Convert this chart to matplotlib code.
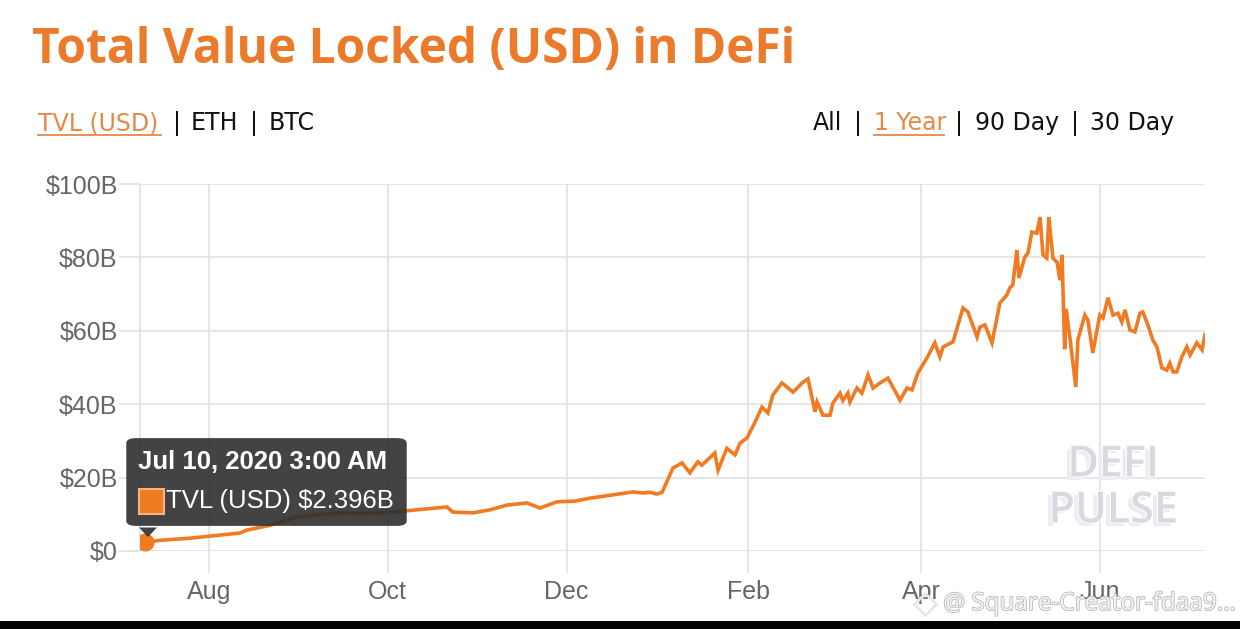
import numpy as np
import pandas as pd
import matplotlib
matplotlib.use("Agg")
from matplotlib import pyplot as plt
from matplotlib.patches import FancyBboxPatch, Polygon, Rectangle
import matplotlib.patheffects as pe

W, H = 1240, 629

# days after Jul 10, 2020 3:00 AM and TVL in $B
days = [0, 5.1, 15.4, 23.9, 32.4, 34.8, 42.7, 51.9, 59.7, 66.6, 75.1, 84.6, 93.9,
        103.1, 105.1, 111.9, 117.7, 123.5, 130.4, 134.8, 140.6, 146.8, 151.9, 159.7,
        166.6, 170.0, 172.4, 174.7, 176.5, 180.2, 183.3, 186.0, 188.7, 190.1, 194.5,
        195.6, 198.6, 201.4, 203.1, 205.5, 208.2, 210.6, 212.6, 214.3, 217.4, 221.2,
        224.6, 226.3, 228.7, 229.4, 231.4, 233.8, 234.8, 237.2, 238.2, 239.9, 240.6,
        243.0, 244.7, 246.8, 248.5, 250.9, 253.6, 257.7, 260.1, 261.8, 263.8, 266.9,
        269.6, 271.3, 272.4, 275.8, 279.2, 280.9, 284.0, 285.0, 286.7, 289.1, 291.8,
        294.2, 295.2, 296.2, 297.6, 298.3, 300.3, 301.4, 302.7, 304.4, 305.5, 306.5,
        307.8, 308.5, 309.9, 311.3, 312.3, 313.0, 313.9, 314.4, 315.7, 317.7, 318.4,
        320.8, 321.8, 323.5, 325.9, 327.0, 328.7, 330.4, 332.1, 333.4, 334.5, 336.2,
        337.9, 339.6, 340.6, 342.3, 344.0, 345.4, 347.1, 348.8, 349.8, 350.9, 352.2,
        353.9, 355.6, 356.7, 359.0, 360.8, 361.8]
tvl = [2.396, 2.9, 3.5, 4.2, 4.9, 5.7, 7.0, 9.3, 9.9, 10.4, 10.2, 10.6, 11.3,
       12.0, 10.6, 10.4, 11.2, 12.5, 13.1, 11.7, 13.4, 13.6, 14.4, 15.3,
       16.1, 15.8, 16.0, 15.5, 16.0, 22.6, 24.0, 21.3, 24.3, 23.4, 26.7,
       22.0, 28.0, 26.2, 29.4, 30.8, 35.1, 39.2, 37.6, 42.5, 45.8, 43.3,
       46.0, 46.9, 37.9, 40.6, 37.0, 37.0, 40.3, 43.0, 41.0, 43.0, 40.6,
       44.4, 43.0, 48.0, 44.4, 45.8, 47.1, 41.1, 44.4, 43.9, 48.5, 52.6,
       56.7, 52.9, 55.6, 57.0, 66.2, 65.1, 58.3, 61.0, 61.6, 56.7, 67.6,
       69.8, 71.7, 72.5, 82.0, 74.4, 80.1, 81.2, 86.9, 86.6, 91.0, 80.7,
       79.8, 91.0, 79.8, 78.7, 73.8, 80.7, 55.0, 66.0, 58.0, 44.7, 57.5,
       64.3, 63.0, 54.0, 64.3, 63.5, 69.0, 64.3, 64.8, 62.4, 65.7, 60.2,
       59.7, 64.8, 65.1, 61.6, 57.5, 55.6, 49.9, 49.3, 51.2, 48.8, 48.8,
       52.9, 55.6, 53.4, 56.7, 54.8, 58.9]

start = pd.Timestamp("2020-07-10 03:00")
dates = start + pd.to_timedelta(days, unit="D")

y_ticks = [0, 20, 40, 60, 80, 100]
y_labels = ["$0", "$20B", "$40B", "$60B", "$80B", "$100B"]
x_ticks = ["2020-08-01", "2020-10-01", "2020-12-01", "2021-02-01", "2021-04-01", "2021-06-01"]
x_labels = ["Aug", "Oct", "Dec", "Feb", "Apr", "Jun"]

series_menu = ["TVL (USD)", "ETH", "BTC"]
range_menu = ["All", "1 Year", "90 Day", "30 Day"]

ORANGE = "#f07b22"
LINK = "#e4894a"
GRID = "#e1e1e1"
LABEL = "#666666"


def fx(x):
    return x / W


def fy(y):
    return 1 - y / H


fig = plt.figure(figsize=(12.4, 6.29), dpi=100)
fig.patch.set_facecolor("white")
ax = fig.add_axes([fx(140), fy(551), fx(1205) - fx(140), fy(184) - fy(551)])

ax.plot(dates, tvl, color=ORANGE, lw=2.6, solid_joinstyle="miter", zorder=3)
ax.plot(dates[:1], tvl[:1], "o", color=ORANGE, ms=12, zorder=5)

ax.set_ylim(0, 100)
ax.set_xlim(start - pd.Timedelta(days=1.7), dates[-1])
ax.set_yticks(y_ticks)
ax.set_yticklabels(y_labels)
ax.set_xticks(pd.to_datetime(x_ticks))
ax.set_xticklabels(x_labels)
ax.grid(True, color=GRID, lw=1.2, zorder=0)
for s in ["top", "right", "bottom"]:
    ax.spines[s].set_visible(False)
ax.spines["left"].set_color(GRID)
ax.spines["left"].set_linewidth(1.2)
ax.tick_params(axis="x", length=16, width=1.2, color=GRID, pad=5,
               labelsize=18, labelcolor=LABEL)
ax.tick_params(axis="y", length=15, width=1.2, color=GRID, pad=1,
               labelsize=18, labelcolor=LABEL)
for t in ax.get_xticklabels() + ax.get_yticklabels():
    t.set_fontfamily("Liberation Sans")

# header texts
fig.text(fx(32), fy(50), "Total Value Locked (USD) in DeFi", color="#ec7a2b",
         fontsize=34.5, fontweight="bold", family="Open Sans", va="center", ha="left")


def menu(items, lefts, bars, active, width_active):
    for i, (item, x0) in enumerate(zip(items, lefts)):
        col = LINK if i == active else "#111111"
        fig.text(fx(x0), fy(123), item, color=col, fontsize=17,
                 family="DejaVu Sans", va="center", ha="left")
        if i == active:
            fig.add_artist(plt.Line2D([fx(x0), fx(x0 + width_active)], [fy(135), fy(135)],
                                      color=LINK, lw=1.3))
    for xb in bars:
        fig.text(fx(xb), fy(123), "|", color="#111111", fontsize=17,
                 family="DejaVu Sans", va="center", ha="center")


menu(series_menu, [38, 191, 269], [177, 254], 0, 123)
menu(range_menu, [813, 874, 975, 1090], [858, 959, 1075], 1, 70)

# watermark
for txt, yy in [("DEFI", 465), ("PULSE", 511)]:
    fig.text(fx(1109), fy(yy + 3), txt, color="#ededf1", fontsize=31,
             fontweight="semibold", family="Open Sans", ha="center", va="center", zorder=1)
    fig.text(fx(1113), fy(yy), txt, color="#d8d8e0", fontsize=31,
             fontweight="semibold", family="Open Sans", ha="center", va="center", zorder=2,
             path_effects=[pe.withStroke(linewidth=1.5, foreground="white")])

# tooltip
box = FancyBboxPatch((fx(130), fy(524)), fx(403) - fx(130), fy(440) - fy(524),
                     boxstyle="round,pad=0.003,rounding_size=0.008",
                     transform=fig.transFigure, facecolor="#2e2e2e", edgecolor="none",
                     alpha=0.9, zorder=10)
fig.add_artist(box)
tri = Polygon([[fx(139), fy(527.5)], [fx(157), fy(527.5)], [fx(148), fy(537)]],
              closed=True, transform=fig.transFigure, facecolor="#2e2e2e",
              edgecolor="none", alpha=0.9, zorder=10)
fig.add_artist(tri)
fig.text(fx(138), fy(462), "Jul 10, 2020 3:00 AM", color="white", fontsize=18.5,
         fontweight="bold", family="Liberation Sans", va="center", ha="left", zorder=11)
fig.add_artist(Rectangle((fx(139), fy(514)), fx(25), fy(489) - fy(514),
                         transform=fig.transFigure, facecolor=ORANGE,
                         edgecolor="#f7b183", lw=1.5, zorder=11))
fig.text(fx(166), fy(501), "TVL (USD) $2.396B", color="white", fontsize=18.5,
         family="Liberation Sans", va="center", ha="left", zorder=11)

# screenshot watermark and bottom bar
fig.add_artist(plt.Line2D([fx(925)], [fy(604)], marker="D", ms=11, mfc="none",
                          mec="#e6e6e6", mew=2, zorder=12))
fig.text(fx(1236), fy(604), "@ Square-Creator-fdaa9...", color="#f4f4f4", fontsize=17.5,
         family="Open Sans", va="center", ha="right", zorder=12,
         path_effects=[pe.withStroke(linewidth=1.2, foreground="#b8b8b8")])
fig.add_artist(Rectangle((0, 0), 1, fy(621), transform=fig.transFigure,
                         facecolor="black", edgecolor="none", zorder=13))

fig.savefig("out.png", dpi=100, facecolor="white")
